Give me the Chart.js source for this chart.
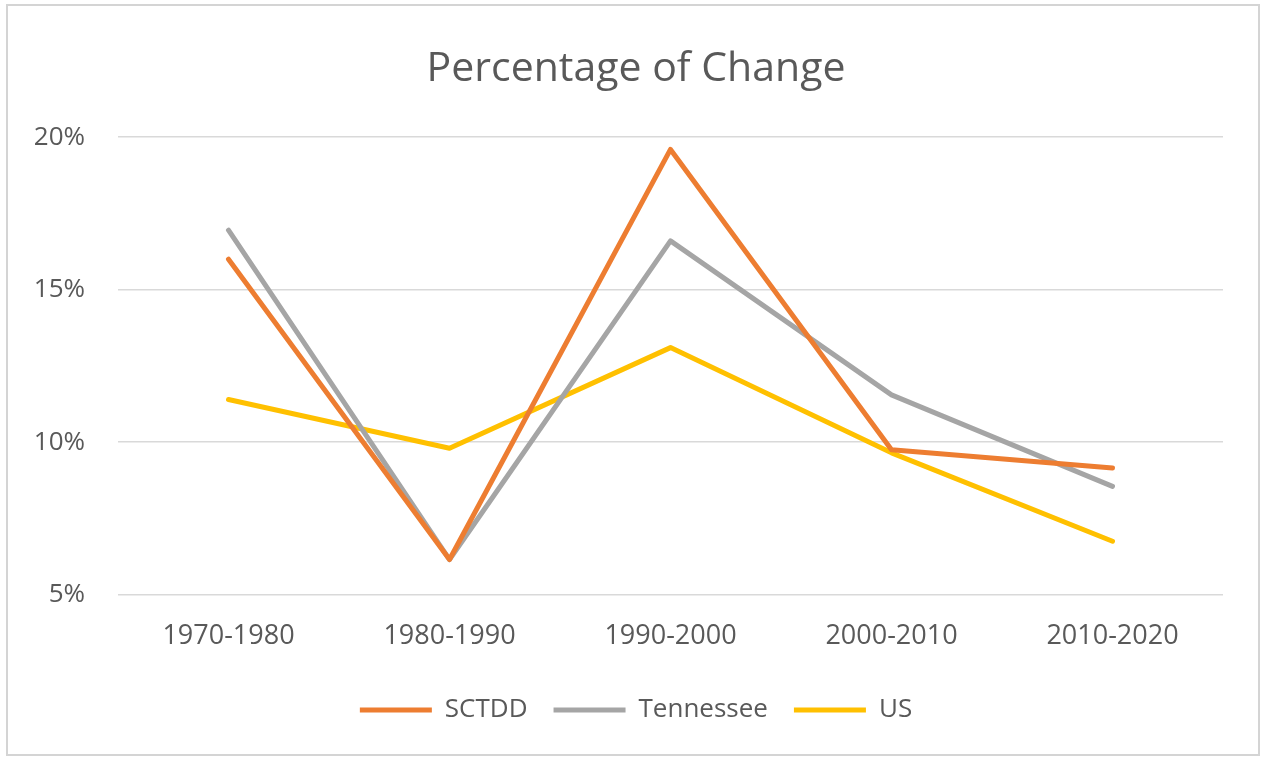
<!DOCTYPE html>
<html>
<head>
<meta charset="utf-8">
<script src="https://cdn.jsdelivr.net/npm/chart.js@4"></script>
<style>
  html, body { margin: 0; padding: 0; background: #fff; }
  #wrap { width: 1262px; height: 757px; }
</style>
</head>
<body>
<div id="wrap"><canvas id="changeChart" width="1262" height="757"></canvas></div>
<script>
// Percentage of change per decade
const periods = ['1970-1980', '1980-1990', '1990-2000', '2000-2010', '2010-2020'];
const sctdd = [16.0, 6.15, 19.6, 9.75, 9.15];
const tennessee = [16.95, 6.15, 16.6, 11.55, 8.55];
const us = [11.4, 9.8, 13.1, 9.65, 6.75];
const yTicks = [5, 10, 15, 20];

const textColor = '#595959';
const font = 'Open Sans';

// outer frame like the Excel chart border
const framePlugin = {
    id: 'frame',
    beforeDraw(chart) {
        const ctx = chart.ctx;
        ctx.save();
        ctx.fillStyle = '#ffffff';
        ctx.fillRect(0, 0, chart.width, chart.height);
        ctx.strokeStyle = '#d4d4d4';
        ctx.lineWidth = 2;
        ctx.strokeRect(7, 5, 1252, 750);
        ctx.restore();
    },
    // title and legend are centred on the whole frame, not just the plot side
    afterLayout(chart) {
        [chart.titleBlock, chart.legend].forEach(b => {
            if (!b) return;
            const shift = (10 + 1262) / 2 - (b.left + b.right) / 2;
            b.left += shift;
            b.right += shift;
            if (b.legendHitBoxes) b.legendHitBoxes.forEach(h => { h.left += shift; });
        });
    }
};

function lineSet(label, data, color) {
    return {
        label: label,
        data: data,
        borderColor: color,
        backgroundColor: color,
        borderWidth: 5,
        pointRadius: 0,
        tension: 0,
        borderCapStyle: 'round',
        borderJoinStyle: 'round'
    };
}

const chartData = {
    labels: periods,
    datasets: [
        lineSet('SCTDD', sctdd, '#ED7D31'),
        lineSet('Tennessee', tennessee, '#A5A5A5'),
        lineSet('US', us, '#FFC000')
    ]
};

const config = {
    type: 'line',
    data: chartData,
    options: {
        responsive: false,
        animation: false,
        layout: { padding: { top: 0, right: 39, bottom: 24, left: 0 } },
        plugins: {
            title: {
                display: true,
                text: 'Percentage of Change',
                color: textColor,
                font: { family: font, size: 41, weight: 'normal' },
                padding: { top: 45, bottom: 43 }
            },
            legend: {
                position: 'bottom',
                labels: {
                    color: textColor,
                    font: { family: font, size: 26 },
                    usePointStyle: true,
                    pointStyle: 'line',
                    pointStyleWidth: 72,
                    padding: 26
                }
            },
            tooltip: { enabled: false }
        },
        scales: {
            x: {
                offset: true,
                grid: { display: false },
                border: { display: false },
                ticks: {
                    color: textColor,
                    font: { family: font, size: 27 },
                    padding: 18,
                    maxRotation: 0
                }
            },
            y: {
                min: 5,
                max: 20,
                afterFit(scale) { scale.width = 118; },
                afterBuildTicks(scale) {
                    scale.ticks = yTicks.map(v => ({ value: v }));
                },
                grid: { color: '#d9d9d9', lineWidth: 1.5, drawTicks: false },
                border: { display: false },
                ticks: {
                    color: textColor,
                    font: { family: font, size: 26 },
                    padding: 33,
                    callback: v => v + '%'
                }
            }
        }
    },
    plugins: [framePlugin]
};

window.onload = function() {
    const ctx = document.getElementById('changeChart').getContext('2d');
    new Chart(ctx, config);
};
</script>
</body>
</html>
